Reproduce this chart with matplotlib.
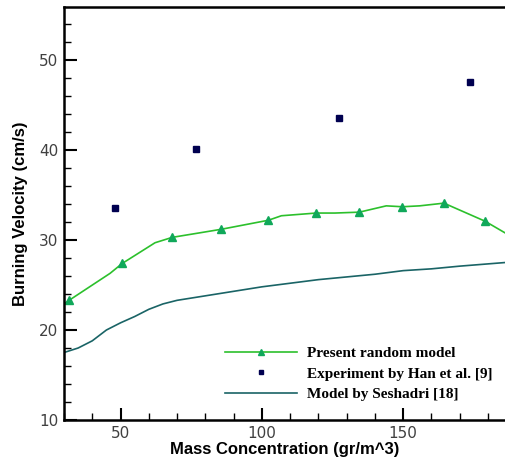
import matplotlib
matplotlib.use("Agg")
import matplotlib.pyplot as plt
from matplotlib.ticker import MultipleLocator

# Present random model (line vertices; triangles on a subset)
model_x = [30, 31.8, 46.3, 50.6, 62.2, 68.3, 78, 85.7, 102.3, 106.9, 119.2,
           125.8, 134.5, 144, 149.7, 155.8, 164.4, 178.9, 186]
model_y = [22.9, 23.3, 26.3, 27.4, 29.7, 30.3, 30.8, 31.2, 32.2, 32.7, 33.0,
           33.0, 33.1, 33.8, 33.7, 33.8, 34.1, 32.1, 30.8]
model_marks = [1, 3, 5, 7, 8, 10, 12, 14, 16, 17]

# Experiment by Han et al.
exp_x = [48.1, 76.8, 127.2, 173.6]
exp_y = [33.6, 40.1, 43.6, 47.6]

# Model by Seshadri
sesh_x = [30, 35, 40, 45, 50, 55, 60, 65, 70, 80, 90, 100, 110, 120, 130,
          140, 150, 160, 170, 186]
sesh_y = [17.5, 18.0, 18.8, 20.0, 20.8, 21.5, 22.3, 22.9, 23.3, 23.8, 24.3,
          24.8, 25.2, 25.6, 25.9, 26.2, 26.6, 26.8, 27.1, 27.5]

fig = plt.figure(figsize=(5.05, 4.59), dpi=100)
ax = fig.add_axes([64 / 505, 39 / 459, 1 - 64 / 505, 413 / 459])

ax.plot(model_x, model_y, color="#2cc02c", lw=1.2, marker="^", markersize=6,
        markerfacecolor="#10a85a", markeredgecolor="#10a85a",
        markevery=model_marks, label="Present random model")
ax.plot(exp_x, exp_y, ls="none", marker="s", markersize=5,
        color="#000050", label="Experiment by Han et al. [9]")
ax.plot(sesh_x, sesh_y, color="#1a6466", lw=1.2, label="Model by Seshadri [18]")

ax.set_xlim(30, 186)
ax.set_ylim(10, 55.9)
ax.xaxis.set_major_locator(MultipleLocator(50))
ax.xaxis.set_minor_locator(MultipleLocator(10))
ax.yaxis.set_major_locator(MultipleLocator(10))
ax.yaxis.set_minor_locator(MultipleLocator(2))
ax.tick_params(which="both", direction="in", top=False, right=False,
               width=1.5, labelsize=11, labelcolor="#404040", pad=4)
ax.tick_params(which="major", length=9)
ax.tick_params(which="minor", length=5, width=1)
for s in ["left", "bottom", "top"]:
    ax.spines[s].set_linewidth(1.8)
ax.spines["right"].set_visible(False)

ax.set_xlabel("Mass Concentration (gr/m^3)", fontsize=12, fontweight="bold",
              family="Liberation Sans", labelpad=1)
ax.set_ylabel("Burning Velocity (cm/s)", fontsize=12, fontweight="bold",
              family="Liberation Sans", labelpad=8)

ax.legend(loc="lower left", bbox_to_anchor=(0.365, 0.045), frameon=False,
          prop={"family": "Liberation Serif", "weight": "bold", "size": 11},
          handlelength=4.7, labelspacing=0.45, handletextpad=0.7,
          markerscale=0.7, borderpad=0, borderaxespad=0)

fig.savefig("out.png", dpi=100)
